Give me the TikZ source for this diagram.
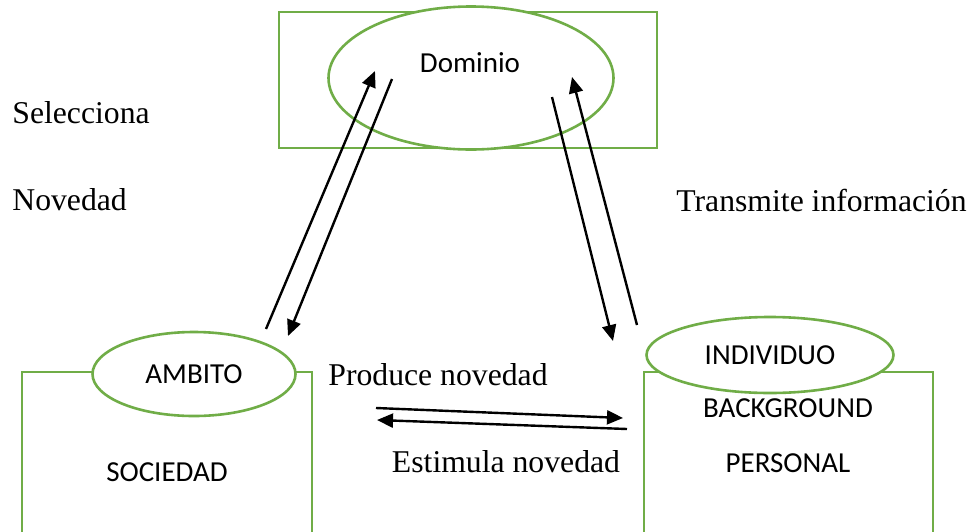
\documentclass[tikz,border=0pt]{standalone}
\usepackage{fontspec}
\setmainfont{Liberation Serif}
\newfontfamily\calibri{Carlito}
\usetikzlibrary{arrows.meta,shapes.geometric,positioning,calc}
\definecolor{officegreen}{HTML}{70AD47}

\begin{document}
\begin{tikzpicture}
[x=0.5pt,y=-0.5pt,
    box/.style={draw=officegreen,line width=1.3pt,fill=white,inner sep=0pt},
    oval/.style={ellipse,draw=officegreen,line width=1.3pt,fill=white,inner sep=0pt},
    sans/.style={font=\calibri\fontsize{14.5}{17}\selectfont,inner sep=0pt},
    serif/.style={font=\fontsize{15.85}{19}\selectfont,inner sep=0pt},
    edgearr/.style={black,line width=1.2pt,-{Triangle[length=8pt,width=7pt]}}]
\useasboundingbox (0,0) rectangle (976,531);
%%%%%%%%%%
%% dominio
\node[box,minimum width=189pt,minimum height=68pt] (domrect) at (468,80) {};
\node[oval,minimum width=142.5pt,minimum height=71.5pt] (dominio) at (471,78) {};
\node[sans] (domtext) at (470,63) {Dominio};
%%
%% ambito / sociedad
\node[box,minimum width=145pt,minimum height=84pt] (socrect) at (167,456) {};
\node[oval,minimum width=101.5pt,minimum height=42pt] (ambito) at (194,374) {};
\node[sans] at (ambito) {AMBITO};
\node[sans] (sociedad) at (167,472) {SOCIEDAD};
%%
%% individuo / background
\node[box,minimum width=144.5pt,minimum height=84pt] (indrect) at (788.5,456) {};
\node[oval,minimum width=123.5pt,minimum height=38pt] (individuo) at (770,355) {};
\node[sans] at (individuo) {INDIVIDUO};
\node[sans] (background) at (788,408) {BACKGROUND};
\node[sans] (personal) at (788,463) {PERSONAL};
%%
%% labels
\node[serif,anchor=west] (selecciona) at (12,113) {Selecciona};
\node[serif,anchor=west] (novedad) at (12,200) {Novedad};
\node[serif,anchor=west] (transmite) at (676,200) {Transmite información};
\node[serif] (produce) at (438,375) {Produce novedad};
\node[serif] (estimula) at (506,462) {Estimula novedad};
%%
%% arrow ends
\coordinate (a1) at (266,329); \coordinate (a2) at (375,71);
\coordinate (b1) at (392,79);  \coordinate (b2) at (288,336);
\coordinate (c1) at (552,97);  \coordinate (c2) at (613,341);
\coordinate (d1) at (637,325); \coordinate (d2) at (572,77);
\coordinate (e1) at (376,408); \coordinate (e2) at (623,418);
\coordinate (f1) at (627,429); \coordinate (f2) at (377,420);
\draw[edgearr] (a1) -- (a2);
\draw[edgearr] (b1) -- (b2);
\draw[edgearr] (c1) -- (c2);
\draw[edgearr] (d1) -- (d2);
\draw[edgearr] (e1) -- (e2);
\draw[edgearr] (f1) -- (f2);
\end{tikzpicture}
\end{document}
